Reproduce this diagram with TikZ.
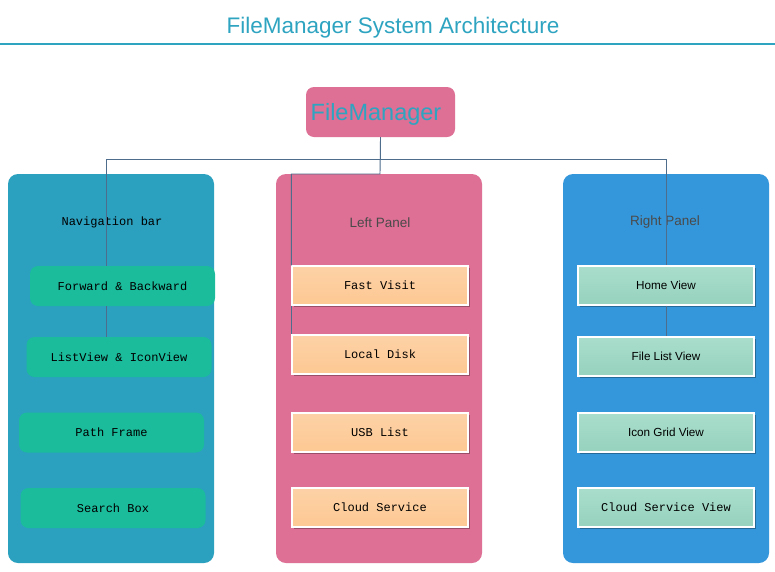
\documentclass[tikz,border=0pt]{standalone}
\usepackage{fontspec}
\setmainfont{Liberation Sans}
\setmonofont{Liberation Mono}
\usetikzlibrary{shadows}
\definecolor{titlec}{HTML}{2EA4C1}
\definecolor{pnlA}{HTML}{2BA1BF}
\definecolor{pnlB}{HTML}{DD7094}
\definecolor{pnlC}{HTML}{3597DB}
\definecolor{grn}{HTML}{1ABC9C}
\definecolor{orgT}{HTML}{FDD2A6}
\definecolor{orgB}{HTML}{FDC893}
\definecolor{mntT}{HTML}{A9DDCC}
\definecolor{mntB}{HTML}{96D2BE}
\definecolor{linkc}{HTML}{4E6D8C}
\definecolor{ptext}{HTML}{4A4A4A}
\tikzset{
  panel/.style={rounded corners=10pt, inner sep=0pt, minimum width=206pt, minimum height=389pt},
  gbox/.style={fill=grn, rounded corners=8pt, inner sep=0pt, minimum width=185pt, minimum height=40pt, font=\fontsize{12}{13}\ttfamily},
  obox/.style={draw=white, line width=1.2pt, top color=orgT, bottom color=orgB, inner sep=0pt, minimum width=176pt, minimum height=39pt, font=\fontsize{12}{13}\ttfamily,
    drop shadow={shadow xshift=1.5pt, shadow yshift=-1.5pt, opacity=0.3, fill=black}},
  mbox/.style={draw=white, line width=1.2pt, top color=mntT, bottom color=mntB, inner sep=0pt, minimum width=176pt, minimum height=39pt, font=\fontsize{11.7}{13}\selectfont,
    drop shadow={shadow xshift=1.5pt, shadow yshift=-1.5pt, opacity=0.3, fill=black}},
  ptitle/.style={font=\fontsize{13.5}{15}\selectfont, text=ptext},
  link/.style={draw=linkc, line width=0.9pt},
}
\begin{document}
\begin{tikzpicture}[x=1pt,y=-1pt]
\useasboundingbox[fill=white] (0,0) rectangle (775,571);
% title
\node[font=\fontsize{22.5}{26}\selectfont, text=titlec] (title) at (393,27.5) {FileManager System Architecture};
\draw[titlec, line width=2pt] (0,44) -- (775,44);
% root
\node[fill=pnlB, rounded corners=8pt, minimum width=149pt, minimum height=50pt, inner sep=0pt] (fm) at (380.5,112) {};
\node[font=\fontsize{23.5}{26}\selectfont, text=titlec] (fmt) at (376,114) {FileManager};
% panels
\node[panel, fill=pnlA] (pa) at (111,368.5) {};
\node[panel, fill=pnlB] (pb) at (379,368.5) {};
\node[panel, fill=pnlC] (pc) at (666,368.5) {};
\node[font=\fontsize{12}{13}\ttfamily] (pat) at (112,222.5) {Navigation bar};
\node[ptitle] (pbt) at (380,222.5) {Left Panel};
\node[ptitle] (pct) at (665,222.5) {Right Panel};
% connectors
\coordinate (jl) at (106,159);
\coordinate (jr) at (666,159);
\coordinate (jm) at (380,174);
% left boxes
\node[gbox] (fwd) at (122.5,286) {Forward \& Backward};
\node[gbox] (lv) at (119,357) {ListView \& IconView};
\node[gbox] (pf) at (111.5,432.5) {Path Frame};
\node[gbox] (sb) at (113,508) {Search Box};
% middle boxes
\node[obox] (fv) at (380,285.5) {Fast Visit};
\node[obox] (ld) at (380,354.5) {Local Disk};
\node[obox] (usb) at (380,432.5) {USB List};
\node[obox] (cs) at (380,507.5) {Cloud Service};
% right boxes
\node[mbox] (hv) at (666,285.5) {Home View};
\node[mbox] (flv) at (666,356.5) {File List View};
\node[mbox] (igv) at (666,432.5) {Icon Grid View};
\node[mbox, font=\fontsize{12}{13}\ttfamily] (csv) at (666,507.5) {Cloud Service View};
% links
\draw[link] (fm.south) |- (jl) -- (jl |- fwd.north);
\draw[link] (fm.south) |- (jr) -- (hv.north);
\draw[link] (fm.south) -- (jm) -| (fv.north west);
\draw[link] (fwd.south -| jl) -- (lv.north -| jl);
\draw[link] (fv.south west) -- (ld.north west);
\draw[link] (hv.south) -- (flv.north);
\end{tikzpicture}
\end{document}
